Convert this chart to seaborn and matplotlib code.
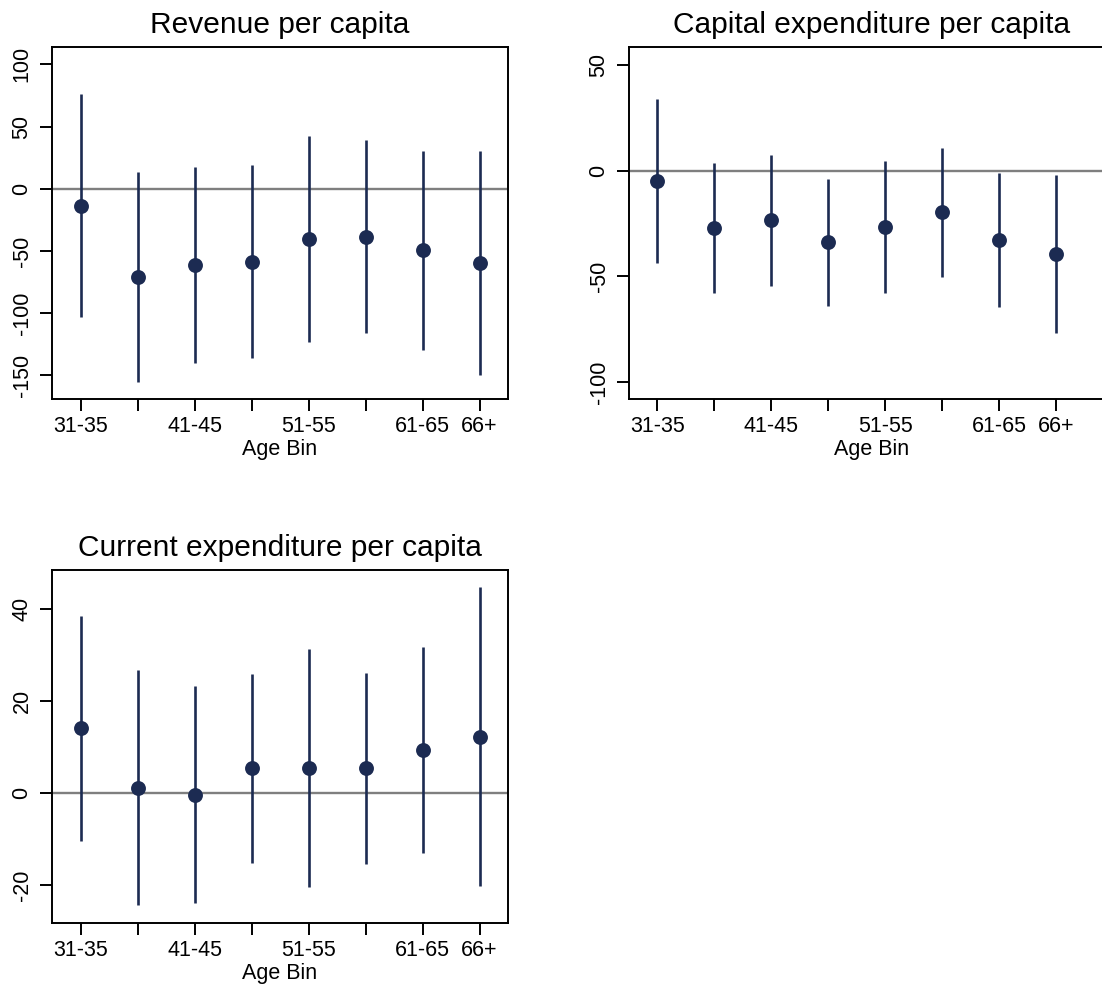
import numpy as np
import pandas as pd
import matplotlib
matplotlib.use("Agg")
import matplotlib.pyplot as plt
import seaborn as sns

# Age bins and their displayed tick labels
age_bins = ["31-35", "36-40", "41-45", "46-50", "51-55", "56-60", "61-65", "66+"]
tick_labels = ["31-35", "", "41-45", "", "51-55", "", "61-65", "66+"]

# Revenue per capita: point estimates and 95% CI bounds
rev_est = [-13.6, -70.7, -61.3, -58.9, -40.4, -38.6, -49.5, -59.7]
rev_lo = [-102.9, -155.1, -139.9, -136.3, -123.0, -116.3, -129.7, -149.8]
rev_hi = [75.9, 13.7, 17.7, 19.1, 42.4, 39.1, 30.5, 30.5]

# Capital expenditure per capita
cap_est = [-4.9, -27.3, -23.6, -34.0, -26.6, -19.7, -32.8, -39.5]
cap_lo = [-43.6, -58.1, -54.7, -64.0, -57.8, -50.1, -64.4, -76.7]
cap_hi = [33.8, 3.8, 7.2, -3.8, 4.5, 10.7, -1.1, -2.2]

# Current expenditure per capita
cur_est = [14.1, 1.2, -0.4, 5.4, 5.4, 5.4, 9.4, 12.2]
cur_lo = [-10.4, -24.3, -23.9, -15.1, -20.4, -15.3, -12.9, -20.1]
cur_hi = [38.6, 26.7, 23.2, 25.9, 31.3, 26.2, 31.8, 44.7]

titles = ["Revenue per capita", "Capital expenditure per capita",
          "Current expenditure per capita"]

sns.set_theme(style="white")
plt.rcParams["font.family"] = ["Liberation Sans", "DejaVu Sans"]

NAVY = "#1c2b52"
GREY = "#7f7f7f"
W, H = 1102, 990

fig = plt.figure(figsize=(W / 100, H / 100), dpi=100)


def add_axes_px(left, right, top, bottom):
    return fig.add_axes([left / W, 1 - bottom / H, (right - left) / W, (bottom - top) / H])


def coef_panel(ax, est, lo, hi, title, ylim, yticks, xlim):
    df = pd.DataFrame({"pos": np.arange(1, len(age_bins) + 1), "bin": age_bins,
                       "est": est, "lo": lo, "hi": hi})
    ax.axhline(0, color=GREY, lw=1.7, zorder=1)
    ax.vlines(df["pos"], df["lo"], df["hi"], color=NAVY, lw=1.9, zorder=2)
    sns.scatterplot(data=df, x="pos", y="est", ax=ax, color=NAVY, s=115,
                    edgecolor=NAVY, linewidth=0, zorder=3, legend=False)
    ax.set_xlim(*xlim)
    ax.set_ylim(*ylim)
    ax.set_xticks(df["pos"])
    ax.set_xticklabels(tick_labels)
    ax.set_yticks(yticks)
    ax.set_yticklabels([str(v) for v in yticks], rotation=90, va="center")
    ax.tick_params(axis="both", which="major", direction="out", length=8.5,
                   width=1.4, color="black", labelsize=15.5, labelcolor="black",
                   bottom=True, left=True)
    ax.tick_params(axis="x", pad=4)
    ax.tick_params(axis="y", pad=5.5)
    ax.set_xlabel("Age Bin", fontsize=15.5, labelpad=1.5, color="black")
    ax.set_ylabel("")
    ax.set_title(title, fontsize=21.5, pad=10, color="black")
    for sp in ax.spines.values():
        sp.set_color("black")
        sp.set_linewidth(1.4)
    ax.set_facecolor("white")


ax1 = add_axes_px(52, 508, 47, 399)
coef_panel(ax1, rev_est, rev_lo, rev_hi, titles[0], (-169, 114),
           [-150, -100, -50, 0, 50, 100], (0.5, 8.5))

ax2 = add_axes_px(629, 1115, 47, 399)
coef_panel(ax2, cap_est, cap_lo, cap_hi, titles[1], (-108, 58.4),
           [-100, -50, 0, 50], (0.5, 1 + (1115 - 657) / 57.0))

ax3 = add_axes_px(52, 508, 570, 922.7)
coef_panel(ax3, cur_est, cur_lo, cur_hi, titles[2], (-28.1, 48.5),
           [-20, 0, 20, 40], (0.5, 8.5))

fig.savefig("out.png", dpi=100, facecolor="white")
